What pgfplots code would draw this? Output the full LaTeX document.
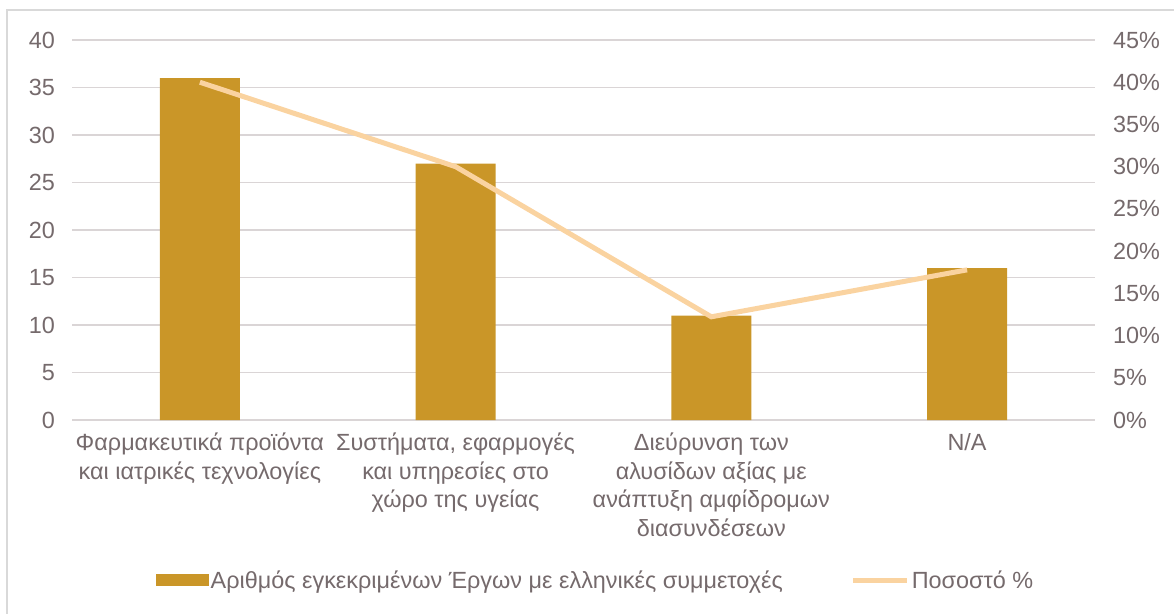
\documentclass[border=0pt]{standalone}
\usepackage{pgfplots}
\pgfplotsset{compat=1.18}
\usepackage{fontspec}
\setmainfont{Liberation Sans}
\definecolor{txt}{RGB}{117,106,108}
\definecolor{barc}{RGB}{202,150,40}
\definecolor{linec}{RGB}{250,211,160}
\definecolor{gridc}{RGB}{218,213,214}
\definecolor{borderc}{RGB}{217,217,217}
\begin{document}
\begin{tikzpicture}
\path[use as bounding box] (-72bp,-194bp) rectangle (1102bp,420bp);
\draw[borderc, line width=1.3bp] (-65bp,-200bp) -- (-65bp,410bp) -- (1110bp,410bp);
\begin{axis}[
  scale only axis, width=1023bp, height=380bp,
  xmin=-0.5, xmax=3.5, ymin=0, ymax=40,
  ytick={0,5,...,40},
  xtick={0,1,2,3},
  xticklabels={{Φαρμακευτικά προϊόντα\\και ιατρικές τεχνολογίες},{Συστήματα, εφαρμογές\\και υπηρεσίες στο\\χώρο της υγείας},{Διεύρυνση των\\αλυσίδων αξίας με\\ανάπτυξη αμφίδρομων\\διασυνδέσεων},{N/A}},
  axis y line*=left, axis x line*=bottom,
  axis line style={draw=none},
  major tick length=0pt,
  ymajorgrids, grid style={gridc, line width=1.3bp},
  /pgf/number format/assume math mode=true,
  tick label style={font=\fontsize{23.5}{28.5}\selectfont, text=txt},
  yticklabel style={inner sep=0pt, xshift=-17bp},
  xticklabel style={align=center, inner sep=0pt, anchor=north, yshift=-13bp},
  legend style={draw=none, at={(0.5,0)}, anchor=center, xshift=12bp, yshift=-160bp, font=\fontsize{23.5}{26}\selectfont, text=txt, legend columns=2, /tikz/every even column/.append style={column sep=66bp}, inner sep=0pt, nodes={inner sep=2bp}},
  legend cell align=left,
]
\addplot[ybar, bar width=80bp, fill=barc, draw=none, area legend,
  legend image code/.code={\fill[barc] (0bp,-6bp) rectangle (53bp,6bp);}]
  coordinates {(0,36) (1,27) (2,11) (3,16)};
\addlegendentry{Αριθμός εγκεκριμένων Έργων με ελληνικές συμμετοχές}
\addlegendimage{linec, line width=5bp, legend image code/.code={\draw[linec, line width=5bp] (0bp,0bp) -- (54bp,0bp);}}
\addlegendentry{Ποσοστό \%}
\end{axis}
\begin{axis}[
  scale only axis, width=1023bp, height=380bp,
  xmin=-0.5, xmax=3.5, ymin=0, ymax=45,
  ytick={0,5,...,45},
  axis y line*=right, axis x line=none,
  axis line style={draw=none},
  major tick length=0pt,
  /pgf/number format/assume math mode=true,
  yticklabel={\pgfmathprintnumber{\tick}\%},
  tick label style={font=\fontsize{23.5}{28.5}\selectfont, text=txt},
  yticklabel style={inner sep=0pt, xshift=18bp},
]
\addplot[linec, line width=5bp, mark=none] coordinates {(0,40) (1,30) (2,12.22) (3,17.78)};
\end{axis}
\end{tikzpicture}
\end{document}
